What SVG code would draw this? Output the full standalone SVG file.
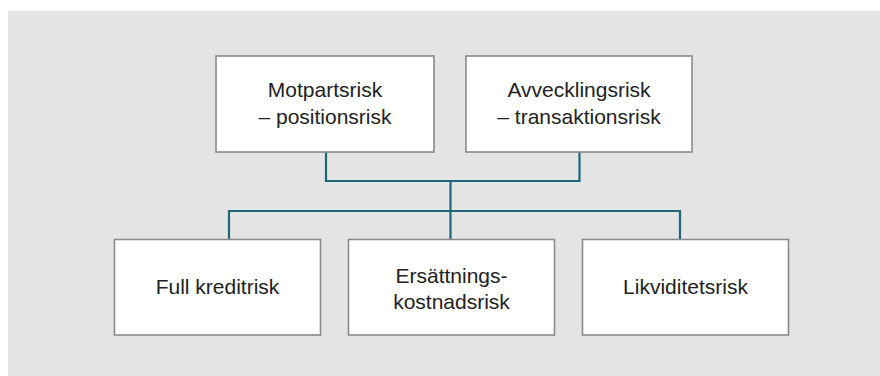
<svg xmlns="http://www.w3.org/2000/svg" width="880" height="376" viewBox="0 0 880 376">
<style>
.box{fill:#ffffff;stroke:#8a8a8a;stroke-width:1.6}
.lbl{font-family:"Liberation Sans",Arial,sans-serif;font-size:21px;fill:#222222;text-anchor:middle}
.con{fill:none;stroke:#1c6878;stroke-width:2.2}
</style>
<rect x="8" y="11" width="872" height="365" fill="#e4e4e4"/>
<g id="connectors">
<path class="con" d="M326,152 V181 H579.5 V152"/>
<path class="con" d="M450.5,181 V239"/>
<path class="con" d="M229,239 V211 H680 V239"/>
</g>
<g id="motpartsrisk">
<rect class="box" x="216" y="56" width="218" height="96"/>
<text class="lbl" x="325" y="97">Motpartsrisk</text>
<text class="lbl" x="325" y="124">– positionsrisk</text>
</g>
<g id="avvecklingsrisk">
<rect class="box" x="466" y="56" width="226" height="96"/>
<text class="lbl" x="579" y="97">Avvecklingsrisk</text>
<text class="lbl" x="579" y="124">– transaktionsrisk</text>
</g>
<g id="full-kreditrisk">
<rect class="box" x="114.5" y="239.5" width="206" height="95.5"/>
<text class="lbl" x="217.5" y="294">Full kreditrisk</text>
</g>
<g id="ersattningskostnadsrisk">
<rect class="box" x="348.5" y="239.5" width="206" height="95.5"/>
<text class="lbl" x="451.5" y="283">Ersättnings-</text>
<text class="lbl" x="451.5" y="309">kostnadsrisk</text>
</g>
<g id="likviditetsrisk">
<rect class="box" x="582.5" y="239.5" width="206" height="95.5"/>
<text class="lbl" x="685.5" y="294">Likviditetsrisk</text>
</g>
</svg>
